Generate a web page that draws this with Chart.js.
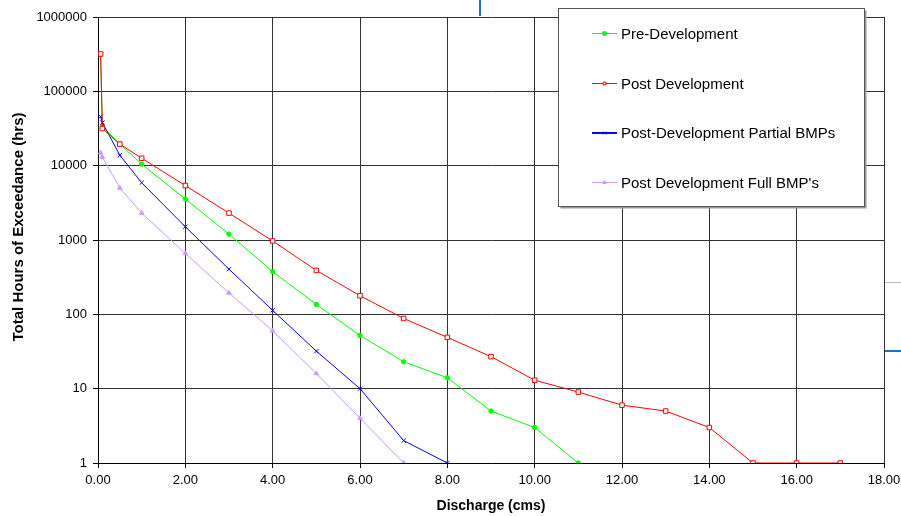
<!DOCTYPE html>
<html>
<head>
<meta charset="utf-8">
<script src="https://cdn.jsdelivr.net/npm/chart.js@4/dist/chart.umd.min.js"></script>
<style>
  html, body { margin: 0; padding: 0; background: #fff; }
  #wrap { width: 901px; height: 516px; position: relative; }
</style>
</head>
<body>
<div id="wrap"><canvas id="flow-chart" width="901" height="516"></canvas></div>
<script>
// discharge (cms) vs total hours of exceedance
const seriesNames = ['Pre-Development', 'Post Development', 'Post-Development Partial BMPs', "Post Development Full BMP's"];

const preX = [0.06, 0.1, 0.5, 1, 2, 3, 4, 5, 6, 7, 8, 9, 10, 11];
const preY = [318000, 34000, 19500, 10500, 3560, 1200, 375, 136, 52, 23, 14, 5, 3, 1];

const postX = [0.06, 0.1, 0.5, 1, 2, 3, 4, 5, 6, 7, 8, 9, 10, 11, 12, 13, 14, 15, 16, 17];
const postY = [318000, 31600, 19500, 12600, 5400, 2300, 970, 390, 178, 88, 49, 27, 13, 9, 6, 5, 3, 1, 1, 1];

const partialX = [0.06, 0.1, 0.5, 1, 2, 3, 4, 5, 6, 7, 8];
const partialY = [45600, 38000, 13800, 5900, 1510, 405, 113, 32, 10, 2, 1];

const fullX = [0.06, 0.1, 0.5, 1, 2, 3, 4, 5, 6, 7];
const fullY = [14900, 13000, 5000, 2300, 660, 194, 60, 16, 4, 1];

const xTicks = [0, 2, 4, 6, 8, 10, 12, 14, 16, 18];
const yTicks = [1, 10, 100, 1000, 10000, 100000, 1000000];

const FONT = '"Liberation Sans", Arial, sans-serif';

function pairs(xs, ys){
	let out = [];
	for(let i = 0; i < xs.length; i++){
		out.push({x: xs[i], y: ys[i]});
	}
	return out;
}

function makeDataSet(label, xs, ys, color, style, order){
	let ds = {};
	ds.label = label;
	ds.data = pairs(xs, ys);
	ds.borderColor = color;
	ds.backgroundColor = color;
	ds.borderWidth = 1;
	ds.pointBorderColor = color;
	ds.pointBackgroundColor = color;
	ds.pointBorderWidth = 1;
	ds.pointRadius = 2.2;
	ds.pointStyle = style;
	ds.tension = 0;
	ds.order = order;
	return ds;
}

let datasets = [
	makeDataSet(seriesNames[0], preX, preY, '#00ff00', 'circle', 3),
	makeDataSet(seriesNames[1], postX, postY, '#ff0000', 'rect', 0),
	makeDataSet(seriesNames[2], partialX, partialY, '#0000ff', 'crossRot', 1),
	makeDataSet(seriesNames[3], fullX, fullY, '#cc99ff', 'triangle', 2)
];
datasets[1].pointBackgroundColor = '#ffffff';
datasets[1].pointRadius = 3.2;
datasets[2].pointRadius = 3;
datasets[3].pointRadius = 2.6;

// legend box + y title drawn on the canvas
const boxLegend = {
	id: 'boxLegend',
	afterDraw(chart){
		const ctx = chart.ctx;
		ctx.save();
		// y axis title (sits a bit above the middle in the original)
		ctx.translate(19, 227);
		ctx.rotate(-Math.PI / 2);
		ctx.font = 'bold 15px ' + FONT;
		ctx.fillStyle = '#000000';
		ctx.textAlign = 'center';
		ctx.textBaseline = 'middle';
		ctx.fillText('Total Hours of Exceedance (hrs)', 0, 0);
		ctx.restore();

		ctx.save();
		// stray document artefacts around the pasted chart
		ctx.fillStyle = '#1f6fd0';
		ctx.fillRect(479, 0, 2, 16);
		ctx.fillRect(885, 350, 16, 2);
		ctx.fillStyle = '#bbbbbb';
		ctx.fillRect(885, 282, 16, 1);

		const bx = 558.5, by = 8.5, bw = 306, bh = 198;
		ctx.fillStyle = '#9a9a9a';
		ctx.fillRect(bx + 2, by + 2, bw, bh);
		ctx.fillStyle = '#ffffff';
		ctx.fillRect(bx, by, bw, bh);
		ctx.strokeStyle = '#555555';
		ctx.lineWidth = 1;
		ctx.strokeRect(bx, by, bw, bh);

		const rows = [33.5, 83.5, 133, 182.5];
		ctx.font = '15px ' + FONT;
		ctx.textBaseline = 'middle';
		chart.data.datasets.forEach((ds, i) => {
			const y = rows[i];
			ctx.strokeStyle = ds.borderColor;
			ctx.lineWidth = i == 2 ? 2 : 1;
			ctx.beginPath();
			ctx.moveTo(592, y);
			ctx.lineTo(617, y);
			ctx.stroke();
			ctx.fillStyle = ds.pointBackgroundColor;
			ctx.strokeStyle = ds.pointBorderColor;
			ctx.lineWidth = 1;
			Chart.helpers.drawPoint(ctx, {pointStyle: ds.pointStyle, radius: 2, rotation: 0, borderWidth: 1}, 604.5, y);
			ctx.fillStyle = '#000000';
			ctx.fillText(ds.label, 621, y + 1);
		});
		ctx.restore();
	}
};

var ctx = document.getElementById('flow-chart').getContext('2d');

var flowChart = new Chart(ctx, {
	type: 'line',
	data: { datasets: datasets },
	plugins: [boxLegend],
	options: {
		responsive: false,
		animation: false,
		layout: { padding: { top: 17, right: 17, left: 0, bottom: 0 } },
		plugins: {
			legend: { display: false },
			tooltip: { enabled: false }
		},
		scales: {
			x: {
				type: 'linear',
				min: 0,
				max: 18,
				afterBuildTicks: (s) => { s.ticks = xTicks.map(v => ({value: v})); },
				afterFit: (s) => { s.height = 53; s.paddingRight = 0; s.paddingLeft = 0; },
				grid: { color: '#333333', lineWidth: 1, tickLength: 5, tickColor: '#000000' },
				border: { color: '#000000', width: 1 },
				ticks: {
					color: '#000000',
					font: { family: FONT, size: 13 },
					padding: 5,
					maxRotation: 0,
					callback: (v) => Number(v).toFixed(2)
				},
				title: {
					display: true,
					text: 'Discharge (cms)',
					color: '#000000',
					font: { family: FONT, size: 14, weight: 'bold' },
					padding: { top: 4, bottom: 1 }
				}
			},
			y: {
				type: 'logarithmic',
				min: 1,
				max: 1000000,
				afterBuildTicks: (s) => { s.ticks = yTicks.map(v => ({value: v})); },
				afterFit: (s) => { s.width = 98; s.paddingTop = 0; s.paddingBottom = 0; },
				grid: { color: '#333333', lineWidth: 1, tickLength: 5, tickColor: '#000000' },
				border: { color: '#000000', width: 1 },
				ticks: {
					color: '#000000',
					font: { family: FONT, size: 13 },
					padding: 6,
					callback: (v) => String(v)
				},
				title: { display: false }
			}
		}
	}
});
</script>
</body>
</html>
